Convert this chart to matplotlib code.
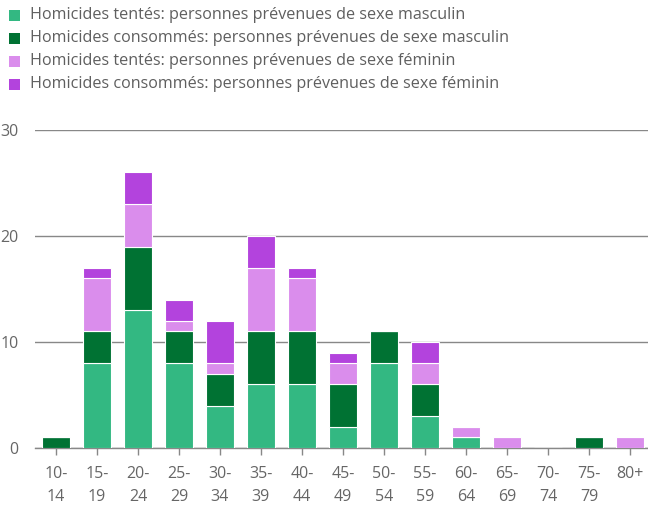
import matplotlib
matplotlib.use("Agg")
import matplotlib.pyplot as plt
from matplotlib.patches import Rectangle
import numpy as np

categories = ["10-\n14", "15-\n19", "20-\n24", "25-\n29", "30-\n34", "35-\n39", "40-\n44",
              "45-\n49", "50-\n54", "55-\n59", "60-\n64", "65-\n69", "70-\n74", "75-\n79", "80+"]
hom_tentes_m = [0, 8, 13, 8, 4, 6, 6, 2, 8, 3, 1, 0, 0, 0, 0]
hom_consommes_m = [1, 3, 6, 3, 3, 5, 5, 4, 3, 3, 0, 0, 0, 1, 0]
hom_tentes_f = [0, 5, 4, 1, 1, 6, 5, 2, 0, 2, 1, 1, 0, 0, 1]
hom_consommes_f = [0, 1, 3, 2, 4, 3, 1, 1, 0, 2, 0, 0, 0, 0, 0]
series_labels = [
    "Homicides tentés: personnes prévenues de sexe masculin",
    "Homicides consommés: personnes prévenues de sexe masculin",
    "Homicides tentés: personnes prévenues de sexe féminin",
    "Homicides consommés: personnes prévenues de sexe féminin",
]
colors = ["#33b882", "#007233", "#da8dec", "#b343dd"]
yticks = [0, 10, 20, 30]

plt.rcParams['font.family'] = ['Open Sans', 'DejaVu Sans']
fig = plt.figure(figsize=(6.48, 5.07), dpi=100)
ax = fig.add_axes([35/648, 1-448/507, 1-35/648, (448-130)/507])

x = np.arange(len(categories))
bottom = np.zeros(len(categories))
for vals, col, lab in zip([hom_tentes_m, hom_consommes_m, hom_tentes_f, hom_consommes_f], colors, series_labels):
    v = np.array(vals, dtype=float)
    ax.bar(x, v, bottom=bottom, width=0.68, color=col, edgecolor="white", linewidth=0.8, label=lab, zorder=3)
    bottom += v

ax.set_xlim(-0.51, 14.44)
ax.set_ylim(0, 30)
ax.set_yticks(yticks)
ax.set_yticklabels([str(t) for t in yticks])
ax.yaxis.grid(True, color="#888888", linewidth=1, zorder=1)
ax.tick_params(axis='y', length=0, pad=12, labelsize=11.5, labelcolor="#666666")
ax.set_xticks(x)
ax.set_xticklabels(categories, linespacing=1.55)
ax.tick_params(axis='x', length=5, color="#888888", width=1, pad=8, labelsize=11.5, labelcolor="#666666")
for s in ["top", "right", "left"]:
    ax.spines[s].set_visible(False)
ax.spines["bottom"].set_color("#888888")
ax.spines["bottom"].set_linewidth(1)

# legend
for i, (col, lab) in enumerate(zip(colors, series_labels)):
    yc = 15 + i * 23
    fig.add_artist(Rectangle((9/648, 1-(yc+5.5)/507), 11/648, 11/507, transform=fig.transFigure,
                             facecolor=col, edgecolor="none"))
    fig.text(30/648, 1-yc/507, lab, fontsize=11.65, color="#5f5f5f", va="center", ha="left")

fig.savefig("out.png", dpi=100)
